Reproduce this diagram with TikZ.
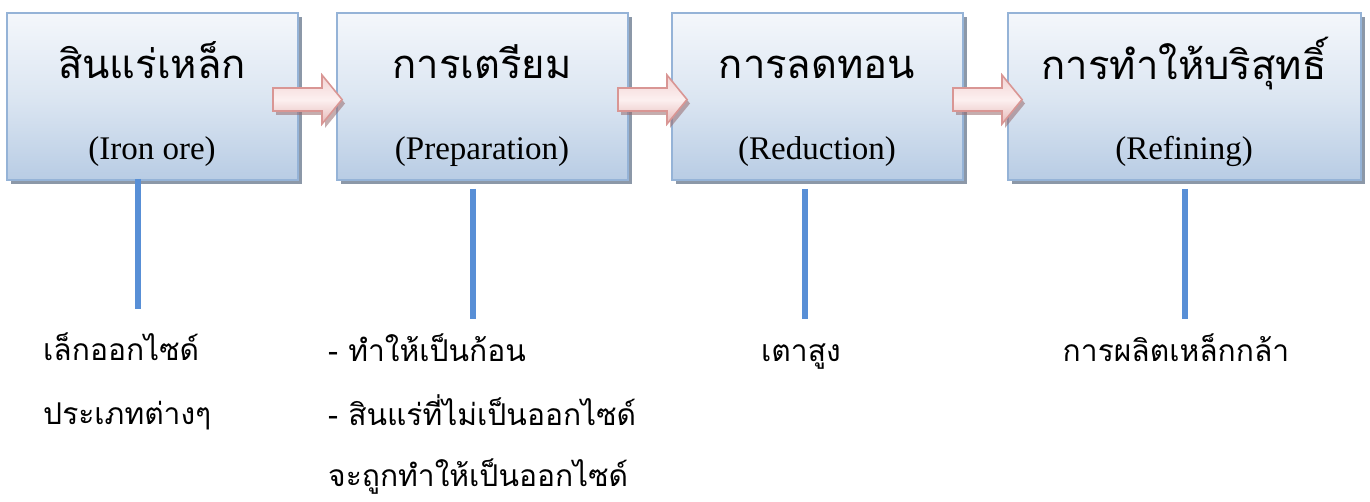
\documentclass[tikz,border=0pt]{standalone}
\usepackage{fontspec}
\setmainfont{Liberation Serif}
\newfontfamily\thai[Script=Thai]{Loma}
\usetikzlibrary{shadows}
\definecolor{boxtop}{RGB}{244,247,251}
\definecolor{boxmid}{RGB}{220,230,242}
\definecolor{boxbot}{RGB}{184,204,228}
\definecolor{boxline}{RGB}{149,179,215}
\definecolor{shadowc}{RGB}{140,152,168}
\definecolor{arrtop}{RGB}{242,210,210}
\definecolor{arrmid}{RGB}{252,240,240}
\definecolor{arrbot}{RGB}{230,184,183}
\definecolor{arrline}{RGB}{217,150,148}
\definecolor{arrshadow}{RGB}{150,105,108}
\definecolor{stem}{RGB}{88,143,214}
\tikzset{
  stagebox/.style={rectangle, draw=boxline, line width=2pt, top color=boxtop, bottom color=boxbot, middle color=boxmid,
    minimum height=167pt, inner sep=0pt,
    drop shadow={shadow xshift=4pt, shadow yshift=-4pt, fill=shadowc, opacity=1}},
  blockarrow/.style={draw=arrline, line width=1.6pt, top color=arrtop, bottom color=arrbot, middle color=arrmid,
    drop shadow={shadow xshift=3pt, shadow yshift=-4pt, fill=arrshadow, opacity=0.55}},
  stemline/.style={draw=stem, line width=6pt},
  title/.style={font=\thai\fontsize{40}{48}\selectfont, anchor=base, inner sep=0pt},
  sub/.style={font=\fontsize{33}{40}\selectfont, anchor=base, inner sep=0pt},
  note/.style={font=\thai\fontsize{30}{36}\selectfont, anchor=base west, inner sep=0pt},
  notec/.style={font=\thai\fontsize{30}{36}\selectfont, anchor=base, inner sep=0pt},
}
\begin{document}
\begin{tikzpicture}[x=1pt,y=-1pt]
\useasboundingbox (0,0) rectangle (1370,502);
% boxes
\node[stagebox, minimum width=291pt] (b1) at (152.5,96.5) {};
\node[stagebox, minimum width=291pt] (b2) at (482.5,96.5) {};
\node[stagebox, minimum width=291pt] (b3) at (817.5,96.5) {};
\node[stagebox, minimum width=353pt] (b4) at (1184.5,96.5) {};
% titles
\node[title] (t1) at (152,79) {สินแร่เหล็ก};
\node[sub]   (s1) at (152,160) {(Iron ore)};
\node[title] (t2) at (482,79) {การเตรียม};
\node[sub]   (s2) at (482,160) {(Preparation)};
\node[title] (t3) at (817,79) {การลดทอน};
\node[sub]   (s3) at (817,160) {(Reduction)};
\node[title] (t4) at (1184,80) {การทำให้บริสุทธิ์};
\node[sub]   (s4) at (1184,160) {(Refining)};
% block arrows
\path[blockarrow] (273,88) -- (322,88) -- (322,75) -- (342,99.5) -- (322,124) -- (322,111) -- (273,111) -- cycle;
\path[blockarrow] (618,88) -- (667,88) -- (667,75) -- (687,99.5) -- (667,124) -- (667,111) -- (618,111) -- cycle;
\path[blockarrow] (953,88) -- (1002,88) -- (1002,75) -- (1022,99.5) -- (1002,124) -- (1002,111) -- (953,111) -- cycle;
% stems
\coordinate (l1a) at (138,179); \coordinate (l1b) at (138,309);
\coordinate (l2a) at (473,189); \coordinate (l2b) at (473,319);
\coordinate (l3a) at (805,189); \coordinate (l3b) at (805,319);
\coordinate (l4a) at (1185,189); \coordinate (l4b) at (1185,319);
\draw[stemline] (l1a) -- (l1b);
\draw[stemline] (l2a) -- (l2b);
\draw[stemline] (l3a) -- (l3b);
\draw[stemline] (l4a) -- (l4b);
% notes
\node[note] (n1a) at (43,360) {เล็กออกไซด์};
\node[note] (n1b) at (43,424) {ประเภทต่างๆ};
\node[note] (n2a) at (328,362) {- ทำให้เป็นก้อน};
\node[note] (n2b) at (328,425) {- สินแร่ที่ไม่เป็นออกไซด์};
\node[note] (n2c) at (328,486) {จะถูกทำให้เป็นออกไซด์};
\node[notec] (n3) at (801,361) {เตาสูง};
\node[notec] (n4) at (1176,361) {การผลิตเหล็กกล้า};
\end{tikzpicture}
\end{document}
